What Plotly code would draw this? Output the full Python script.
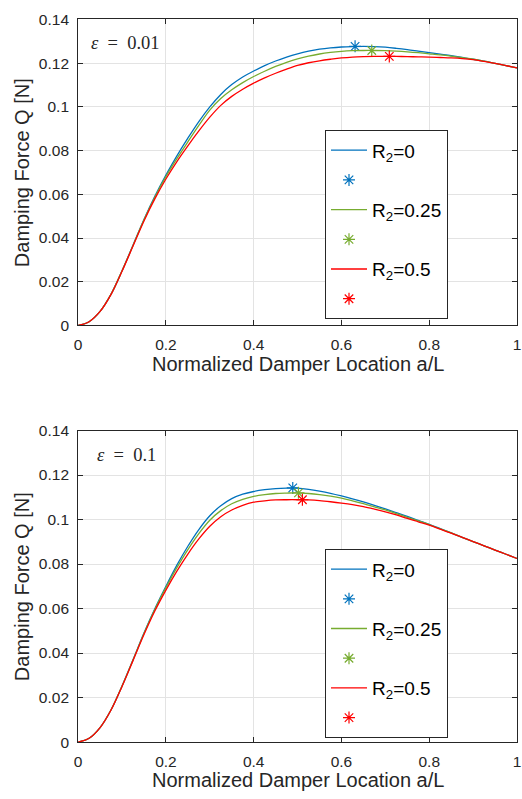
import plotly.graph_objects as go

# Normalized damper location a/L (step 0.025)
x_loc = [0, .025, .05, .075, .1, .125, .15, .175, .2, .225, .25, .275, .3, .325, .35, .375,
         .4, .425, .45, .475, .5, .525, .55, .575, .6, .625, .65, .675, .7, .725, .75, .775,
         .8, .825, .85, .875, .9, .925, .95, .975, 1]

# Damping force Q [N], epsilon = 0.01
q_eps001_r0 = [0, .0017, .0064, .0143, .0250, .0367, .0485, .0592, .0688, .0776, .0857,
               .0933, .1000, .1057, .1102, .1137, .1164, .1189, .1210, .1228, .1243, .1255,
               .1264, .1270, .1274, .1276, .1277, .1276, .1273, .1268, .1262, .1255, .1248,
               .1241, .1234, .1226, .1218, .1209, .1199, .1189, .1178]
q_eps001_r025 = [0, .0017, .0064, .0143, .0250, .0366, .0483, .0588, .0681, .0763, .0840,
                 .0915, .0985, .1038, .1078, .1111, .1139, .1163, .1185, .1204, .1220, .1232,
                 .1242, .1249, .1254, .1257, .1258, .1258, .1257, .1255, .1252, .1248, .1243,
                 .1238, .1232, .1225, .1218, .1209, .1199, .1189, .1178]
q_eps001_r05 = [0, .0017, .0064, .0142, .0248, .0363, .0478, .0580, .0670, .0750, .0822,
                .0890, .0953, .1007, .1048, .1081, .1109, .1133, .1154, .1173, .1190, .1202,
                .1211, .1218, .1224, .1228, .1230, .1231, .1231, .1231, .1230, .1229, .1228,
                .1226, .1224, .1221, .1216, .1208, .1199, .1189, .1178]

# Damping force Q [N], epsilon = 0.1
q_eps01_r0 = [0, .0017, .0065, .0145, .0252, .0370, .0490, .0600, .0700, .0795, .0880,
              .0955, .1017, .1062, .1094, .1114, .1126, .1134, .1139, .1141, .1141, .1136,
              .1128, .1118, .1106, .1093, .1079, .1064, .1048, .1031, .1014, .0996, .0978,
              .0959, .0940, .0920, .0901, .0882, .0863, .0844, .0825]
q_eps01_r025 = [0, .0017, .0065, .0145, .0252, .0369, .0488, .0597, .0694, .0784, .0865,
                .0937, .0997, .1040, .1071, .1091, .1104, .1112, .1117, .1119, .1120, .1117,
                .1112, .1105, .1096, .1084, .1071, .1057, .1043, .1027, .1010, .0994, .0977,
                .0958, .0940, .0920, .0901, .0882, .0863, .0844, .0825]
q_eps01_r05 = [0, .0017, .0065, .0144, .0250, .0366, .0483, .0590, .0683, .0768, .0845,
               .0913, .0970, .1013, .1043, .1064, .1078, .1084, .1088, .1089, .1089, .1088,
               .1085, .1080, .1074, .1067, .1058, .1047, .1035, .1021, .1005, .0990, .0975,
               .0957, .0939, .0920, .0901, .0882, .0863, .0844, .0825]

# Peak (optimal damper location) for each R2
peak_eps001_x = [0.631, 0.669, 0.709]
peak_eps001_q = [0.1277, 0.1258, 0.1231]
peak_eps01_x = [0.489, 0.502, 0.511]
peak_eps01_q = [0.1142, 0.1120, 0.1089]

series_labels = ["R<sub>2</sub>=0", "R<sub>2</sub>=0.25", "R<sub>2</sub>=0.5"]
series_colors = ["#0072BD", "#77AC30", "#FF0000"]

x_ticks = [0, 0.2, 0.4, 0.6, 0.8, 1]
x_ticktext = ["0", "0.2", "0.4", "0.6", "0.8", "1"]
y_ticks = [0, 0.02, 0.04, 0.06, 0.08, 0.10, 0.12, 0.14]
y_ticktext = ["0", "0.02", "0.04", "0.06", "0.08", "0.1", "0.12", "0.14"]

panel_text = ["<i>ε</i>\u2002=\u20020.01", "<i>ε</i>\u2002=\u20020.1"]
x_title = "Normalized Damper Location a/L"
y_title = "Damping Force Q [N]"

W, H = 522, 799
AX = "#262626"
FONT = "Liberation Sans, Arial, sans-serif"
SERIF = "Liberation Serif, Times New Roman, serif"

fig = go.Figure()

panels = [
    (1, "legend", [q_eps001_r0, q_eps001_r025, q_eps001_r05], peak_eps001_x, peak_eps001_q),
    (2, "legend2", [q_eps01_r0, q_eps01_r025, q_eps01_r05], peak_eps01_x, peak_eps01_q),
]

for idx, leg, curves, px, pq in panels:
    xa = "x" if idx == 1 else f"x{idx}"
    ya = "y" if idx == 1 else f"y{idx}"
    for k in range(3):
        fig.add_trace(go.Scatter(
            x=x_loc, y=curves[k], mode="lines", name=series_labels[k],
            line=dict(color=series_colors[k], width=1.3, shape="spline", smoothing=1.0),
            xaxis=xa, yaxis=ya, legend=leg, legendgroup=f"{leg}_l{k}",
        ))
        fig.add_trace(go.Scatter(
            x=[px[k]], y=[pq[k]], mode="markers", name="\u00a0",
            marker=dict(symbol="asterisk-open", size=10, color=series_colors[k],
                        line=dict(width=1.2, color=series_colors[k])),
            xaxis=xa, yaxis=ya, legend=leg, legendgroup=f"{leg}_m{k}",
        ))

x_dom = [75.3 / W, 521.0 / W]
top_dom = [1 - 323.3 / H, 1 - 10.7 / H]
bot_dom = [1 - 749.0 / H, 1 - 430.7 / H]

axis_common = dict(
    showline=True, linecolor=AX, linewidth=1, mirror="ticks",
    ticks="inside", ticklen=5, tickcolor=AX, tickwidth=1,
    showgrid=True, gridcolor="#e3e3e3", gridwidth=1, zeroline=False,
    tickfont=dict(family=FONT, size=15.5, color=AX),
    ticklabelstandoff=5, ticklabeloverflow="allow",
)

layout = dict(
    width=W, height=H, margin=dict(l=0, r=0, t=0, b=0),
    paper_bgcolor="white", plot_bgcolor="white",
    font=dict(family=FONT, color=AX),
    xaxis=dict(domain=x_dom, range=[0, 1], tickvals=x_ticks, ticktext=x_ticktext,
               anchor="y", **axis_common),
    yaxis=dict(domain=top_dom, range=[0, 0.14], tickvals=y_ticks, ticktext=y_ticktext,
               anchor="x", **axis_common),
    xaxis2=dict(domain=x_dom, range=[0, 1], tickvals=x_ticks, ticktext=x_ticktext,
                anchor="y2", **axis_common),
    yaxis2=dict(domain=bot_dom, range=[0, 0.14], tickvals=y_ticks, ticktext=y_ticktext,
                anchor="x2", **axis_common),
)

legend_style = dict(
    xanchor="left", yanchor="top", bgcolor="white", bordercolor=AX, borderwidth=1,
    font=dict(family=FONT, size=19, color="#000000"), tracegroupgap=2,
    itemsizing="trace", itemwidth=36,
)
layout["legend"] = dict(x=326 / W, y=1 - 124 / H, **legend_style)
layout["legend2"] = dict(x=326 / W, y=1 - 552 / H, **legend_style)

fig.update_layout(**layout)

title_font = dict(family=FONT, size=20, color=AX)
eps_font = dict(family=SERIF, size=18.5, color=AX)
annotations = [
    dict(x=86 / W, y=1 - 35 / H, text=panel_text[0], xanchor="left", font=eps_font),
    dict(x=92 / W, y=1 - 456 / H, text=panel_text[1], xanchor="left", font=eps_font),
    dict(x=298.7 / W, y=1 - 363 / H, text=x_title, xanchor="center", font=title_font),
    dict(x=298.7 / W, y=1 - 788 / H, text=x_title, xanchor="center", font=title_font),
    dict(x=19 / W, y=1 - 167 / H, text=y_title, xanchor="center", textangle=-90, font=title_font),
    dict(x=19 / W, y=1 - 590 / H, text=y_title, xanchor="center", textangle=-90, font=title_font),
]
for a in annotations:
    a.update(xref="paper", yref="paper", showarrow=False, yanchor="middle")
fig.update_layout(annotations=annotations)

fig.write_html("out.html")
